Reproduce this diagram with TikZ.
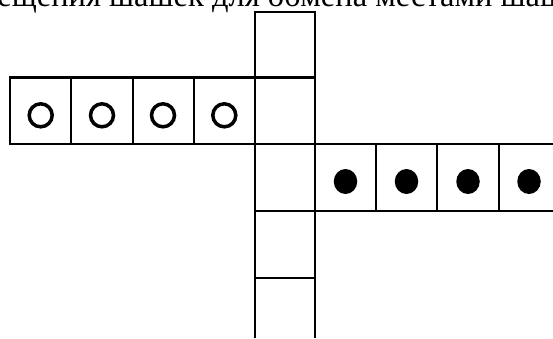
\documentclass[tikz,border=0pt]{standalone}
\usepackage{fontspec}
\setmainfont{Liberation Serif}
\usetikzlibrary{positioning,shapes.geometric}
\tikzset{
  board line/.style={line width=1.3pt,black},
  white checker/.style={draw,circle,line width=2pt,minimum size=4.6mm,inner sep=0pt},
  black checker/.style={ellipse,fill=black,minimum width=4.7mm,minimum height=5mm,inner sep=0pt},
  caption text/.style={font=\fontsize{18.5}{22}\selectfont,inner sep=0pt},
}
\begin{document}
\begin{tikzpicture}[x=0.02cm,y=-0.02cm]
\useasboundingbox (0,0) rectangle (553,338);
% title (cut by the page)
\node[caption text,anchor=base west] (title) at (-86,6.7) {перемещения шашек для обмена местами шашек};
% vertical column
\draw[board line] (255,338) -- (255,12) -- (315,12) -- (315,338);
\foreach \y in {278,211} \draw[board line] (255,\y) -- (315,\y);
% left row
\draw[board line] (10,77.5) rectangle (255,144);
\draw[board line] (255,77.5) -- (315,77.5);
\foreach \x in {71,133,194} \draw[board line] (\x,77.5) -- (\x,144);
% right row
\draw[board line] (255,144) -- (553,144);
\draw[board line] (315,211) -- (553,211);
\foreach \x in {376,437,499} \draw[board line] (\x,144) -- (\x,211);
% checkers
\foreach \x [count=\i] in {40.7,102,163,224.3}
  \node[white checker] (w\i) at (\x,115.3) {};
\foreach \x [count=\i] in {345.5,406.5,468,529}
  \node[black checker] (b\i) at (\x,181.5) {};
\end{tikzpicture}
\end{document}
